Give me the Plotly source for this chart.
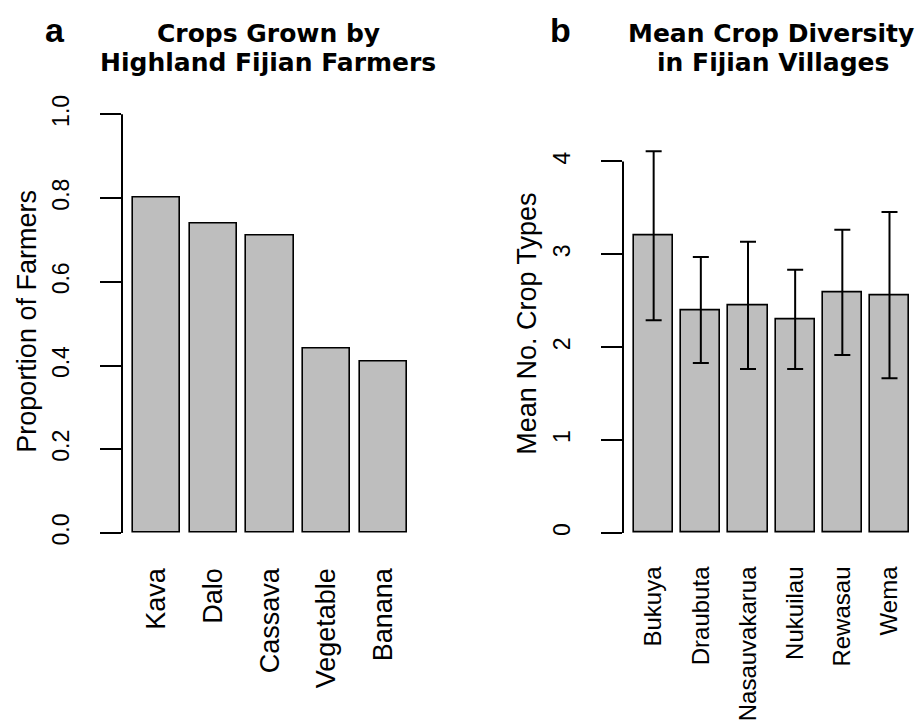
import plotly.graph_objects as go

# ---- data ----
crops = ["Kava", "Dalo", "Cassava", "Vegetable", "Banana"]
crop_prop = [0.80, 0.74, 0.71, 0.44, 0.41]
yticks_a = [0.0, 0.2, 0.4, 0.6, 0.8, 1.0]
yticklabels_a = ["0.0", "0.2", "0.4", "0.6", "0.8", "1.0"]

villages = ["Bukuya", "Draubuta", "Nasauvakarua", "Nukuilau", "Rewasau", "Wema"]
mean_div = [3.20, 2.40, 2.45, 2.30, 2.59, 2.56]
err_div = [0.91, 0.57, 0.685, 0.535, 0.675, 0.895]
yticks_b = [0, 1, 2, 3, 4]
yticklabels_b = ["0", "1", "2", "3", "4"]

W, H = 917, 722
BAR = "#BEBEBE"
FONT = "Liberation Sans"

def px_x(p):
    return p / W

def px_y(p):
    return (H - p) / H

fig = go.Figure()

fig.add_trace(go.Bar(
    x=crops, y=crop_prop, width=1 / 1.2,
    marker=dict(color=BAR, line=dict(color="black", width=1.6)),
    xaxis="x", yaxis="y", showlegend=False, hoverinfo="x+y",
))
fig.add_trace(go.Bar(
    x=villages, y=mean_div, width=1 / 1.2,
    marker=dict(color=BAR, line=dict(color="black", width=1.6)),
    error_y=dict(type="data", array=err_div, visible=True,
                 color="black", thickness=2, width=8),
    xaxis="x2", yaxis="y2", showlegend=False, hoverinfo="x+y",
))

common_x = dict(showgrid=False, zeroline=False, showline=False, ticks="",
                tickangle=-90, type="category", ticklabelstandoff=12)
common_y = dict(showgrid=False, zeroline=False, showline=False,
                ticks="outside", ticklen=21, tickwidth=2, tickcolor="black",
                tickangle=-90, tickmode="array", ticklabelstandoff=22,
                tickfont=dict(family=FONT, size=23, color="black"))

fig.update_layout(
    width=W, height=H,
    margin=dict(l=0, r=0, t=0, b=0),
    paper_bgcolor="white", plot_bgcolor="white",
    bargap=0,
    xaxis=dict(common_x, domain=[px_x(122), px_x(418)], range=[-0.61, 4.61],
               anchor="y", tickfont=dict(family=FONT, size=27, color="black")),
    yaxis=dict(common_y, domain=[px_y(549), px_y(95)], range=[-0.04, 1.04],
               anchor="x", tickvals=yticks_a, ticktext=yticklabels_a),
    xaxis2=dict(common_x, domain=[px_x(623), 1.0], range=[-0.65, 5.583],
                anchor="y2", tickfont=dict(family=FONT, size=24, color="black")),
    yaxis2=dict(common_y, domain=[px_y(548), px_y(133)], range=[-0.17, 4.28],
                anchor="x2", tickvals=yticks_b, ticktext=yticklabels_b),
)

# axis lines spanning first to last tick (R style)
fig.add_shape(type="line", xref="x domain", yref="y", x0=0, x1=0,
              y0=yticks_a[0], y1=yticks_a[-1], line=dict(color="black", width=2))
fig.add_shape(type="line", xref="x2 domain", yref="y2", x0=0, x1=0,
              y0=yticks_b[0], y1=yticks_b[-1], line=dict(color="black", width=2))

ann = []
# axis titles
ann.append(dict(text="Proportion of Farmers", x=px_x(27), y=px_y(320),
                xref="paper", yref="paper", textangle=-90, showarrow=False,
                xanchor="center", yanchor="middle",
                font=dict(family=FONT, size=27, color="black")))
ann.append(dict(text="Mean No. Crop Types", x=px_x(527), y=px_y(322),
                xref="paper", yref="paper", textangle=-90, showarrow=False,
                xanchor="center", yanchor="middle",
                font=dict(family=FONT, size=27, color="black")))
# panel titles
tfont = dict(family="DejaVu Sans", size=25, color="black", weight="bold")
for txt, cx, cy in [("Crops Grown by", 268, 31), ("Highland Fijian Farmers", 268, 60),
                    ("Mean Crop Diversity", 771, 31), ("in Fijian Villages", 773, 60)]:
    ann.append(dict(text=txt, x=px_x(cx), y=px_y(cy), xref="paper", yref="paper",
                    showarrow=False, font=tfont, xanchor="center", yanchor="middle"))
# panel letters
lfont = dict(family=FONT, size=34, color="black", weight="bold")
ann.append(dict(text="a", x=px_x(55), y=px_y(27), xref="paper", yref="paper",
                xanchor="center", yanchor="middle", showarrow=False, font=lfont))
ann.append(dict(text="b", x=px_x(560), y=px_y(27), xref="paper", yref="paper",
                xanchor="center", yanchor="middle", showarrow=False, font=lfont))
fig.update_layout(annotations=ann)

fig.write_html("out.html")
